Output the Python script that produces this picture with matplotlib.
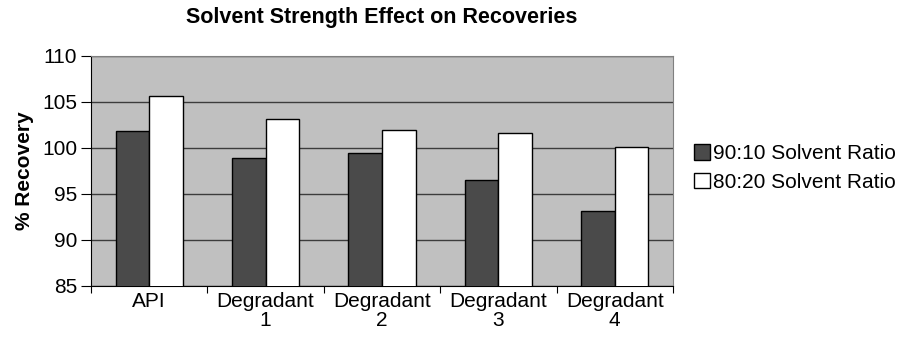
import matplotlib
matplotlib.use("Agg")
import matplotlib.pyplot as plt
import numpy as np

plt.rcParams["font.family"] = ["Liberation Sans", "DejaVu Sans"]

categories = ["API", "Degradant\n1", "Degradant\n2", "Degradant\n3", "Degradant\n4"]
ratio_90_10 = [101.8, 98.9, 99.5, 96.5, 93.2]
ratio_80_20 = [105.6, 103.1, 102.0, 101.6, 100.1]

fig = plt.figure(figsize=(8.97, 3.48), dpi=100)
ax = fig.add_axes([91 / 897, 1 - 286 / 348, (673 - 91) / 897, (286 - 56) / 348])

x = np.arange(len(categories))
w = 0.288
ax.bar(x - w / 2, ratio_90_10, w, color="#4a4a4a", edgecolor="black",
       linewidth=1.0, label="90:10 Solvent Ratio", zorder=3)
ax.bar(x + w / 2, ratio_80_20, w, color="white", edgecolor="black",
       linewidth=1.0, label="80:20 Solvent Ratio", zorder=3)

ax.set_facecolor("#c0c0c0")
ax.set_xlim(-0.5, len(categories) - 0.5)
ax.set_ylim(85, 110)
ax.set_yticks(range(85, 111, 5))
ax.yaxis.grid(True, color="#3c3c3c", linewidth=1.0, zorder=1)
ax.set_axisbelow(True)

# category ticks sit on the boundaries between groups
ax.set_xticks(np.arange(-0.5, len(categories), 1.0))
ax.set_xticklabels([])
ax.set_xticks(x, minor=True)
ax.set_xticklabels(categories, minor=True, fontsize=15, linespacing=1.05)
ax.tick_params(axis="x", which="minor", length=0, pad=4)
ax.tick_params(axis="x", which="major", length=5, direction="out", color="black")
ax.tick_params(axis="y", length=7, direction="out", labelsize=15, pad=3)

for side in ("top", "right"):
    ax.spines[side].set_color("#808080")
for side in ("left", "bottom"):
    ax.spines[side].set_color("black")

ax.set_ylabel("% Recovery", fontsize=15, fontweight="bold", labelpad=6)
ax.set_title("Solvent Strength Effect on Recoveries", fontsize=15.5,
             fontweight="bold", pad=24)

fig.legend(loc="center left", bbox_to_anchor=(694 / 897, 1 - 168 / 348),
           frameon=False, fontsize=15, handlelength=0.75, handleheight=0.75,
           handletextpad=0.15, labelspacing=0.45, borderaxespad=0, borderpad=0)

fig.savefig("out.png", dpi=100)
